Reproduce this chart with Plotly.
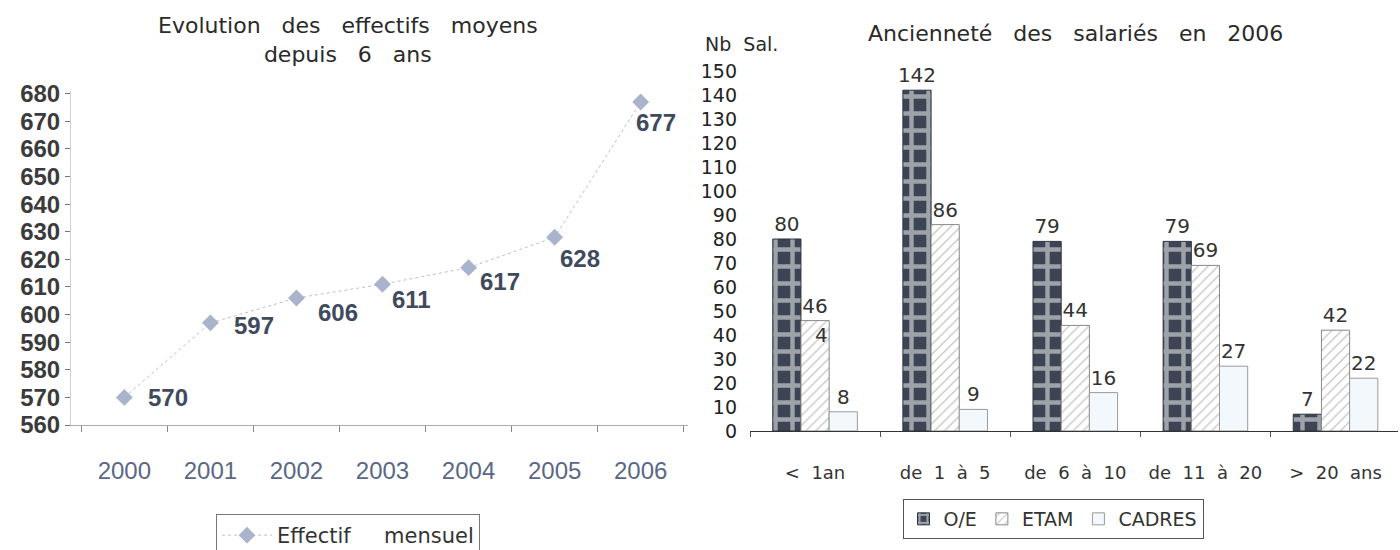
import plotly.graph_objects as go

# ---- Left chart data ----
years = ["2000", "2001", "2002", "2003", "2004", "2005", "2006"]
effectifs = [570, 597, 606, 611, 617, 628, 677]

# ---- Right chart data ----
anciennete = ["<  1an", "de  1  à  5", "de  6  à  10", "de  11  à  20", ">  20  ans"]
oe = [80, 142, 79, 79, 7]
etam = [46, 86, 44, 69, 42]
cadres = [8, 9, 16, 27, 22]

W, H = 1400, 550
def px(x):
    return x / W
def py(y):
    return (H - y) / H

fig = go.Figure()

fig.add_trace(go.Scatter(
    x=years, y=effectifs, name="Effectif     mensuel",
    mode="lines+markers",
    line=dict(color="#b9c0cc", width=1, dash="dot"),
    marker=dict(symbol="diamond", size=13, color="#a9b3cb"),
    cliponaxis=False,
    xaxis="x", yaxis="y", legend="legend",
))

# value labels of the line chart (offsets relative to each marker)
lab_dx = [22, 22, 20, 7, 9, 3, -7]
lab_dy = [0, 3, 14, 15, 14, 21, 20]
for i, (v, dx, dy) in enumerate(zip(effectifs, lab_dx, lab_dy)):
    fig.add_annotation(x=i, y=v, xref="x", yref="y", text=str(v),
                       showarrow=False, xanchor="left", yanchor="middle",
                       xshift=dx, yshift=-dy,
                       font=dict(family="Liberation Sans", size=24, color="#3f4a5e",
                                 weight="bold"))

bar_font = dict(family="DejaVu Sans", size=20, color="#333")

fig.add_trace(go.Bar(
    x=anciennete, y=oe, name="O/E",
    marker=dict(color="#3d4453", line=dict(color="#2e3440", width=1),
                pattern=dict(shape="+", fgcolor="white", bgcolor="#3d4453",
                             size=17, solidity=0.45)),
    texttemplate="%{y}", textposition="outside", constraintext="none",
    textfont=bar_font,
    cliponaxis=False, xaxis="x2", yaxis="y2", legend="legend2",
))
fig.add_trace(go.Bar(
    x=anciennete, y=etam, name="ETAM",
    marker=dict(color="white", line=dict(color="#888", width=1),
                pattern=dict(shape="/", fgcolor="#8a8a8a", bgcolor="white",
                             size=7, solidity=0.18)),
    texttemplate="%{y}", textposition="outside", constraintext="none",
    textfont=bar_font,
    cliponaxis=False, xaxis="x2", yaxis="y2", legend="legend2",
))
fig.add_trace(go.Bar(
    x=anciennete, y=cadres, name="CADRES",
    marker=dict(color="#f3f8fc", line=dict(color="#9a9a9a", width=1)),
    texttemplate="%{y}", textposition="outside", constraintext="none",
    textfont=bar_font,
    cliponaxis=False, xaxis="x2", yaxis="y2", legend="legend2",
))

fig.update_layout(
    width=W, height=H,
    margin=dict(l=0, r=0, t=0, b=0, autoexpand=False),
    paper_bgcolor="white", plot_bgcolor="white",
    bargap=0.35, bargroupgap=0,
    xaxis=dict(domain=[px(71), px(688)], type="category", range=[-0.62, 6.55],
               showline=True, linecolor="#aaaaaa", linewidth=1,
               ticks="outside", ticklen=6, tickcolor="#888", tickson="boundaries",
               tickfont=dict(family="Liberation Sans", size=24, color="#5a6786"),
               ticklabelstandoff=24, showgrid=False, zeroline=False,
               anchor="y", automargin=False),
    yaxis=dict(domain=[py(425), py(91)], range=[560, 681], dtick=10, tick0=560,
               showline=True, linecolor="#d0d0d0", linewidth=1,
               ticks="outside", ticklen=5, tickcolor="#777",
               tickfont=dict(family="Liberation Sans", size=24, color="#3b3b3b", weight="bold"),
               showgrid=False, zeroline=False, anchor="x", automargin=False),
    xaxis2=dict(domain=[px(750), px(1398)], type="category", range=[-0.5, 4.48],
                showline=True, linecolor="#333", linewidth=1,
                ticks="outside", ticklen=5, tickcolor="#555", tickson="boundaries",
                tickfont=dict(family="DejaVu Sans", size=18, color="#333"),
                ticklabelstandoff=25, showgrid=False, zeroline=False,
                anchor="y2", automargin=False),
    yaxis2=dict(domain=[py(431), py(71)], range=[0, 150], dtick=10, tick0=0,
                showline=False, ticks="",
                tickfont=dict(family="DejaVu Sans", size=19, color="#222"),
                ticklabelstandoff=12,
                showgrid=False, zeroline=False, anchor="x2", automargin=False),
    legend=dict(orientation="h", x=px(348), xanchor="center", y=py(514), yanchor="top",
                bordercolor="#777", borderwidth=1, bgcolor="white", itemwidth=50,
                font=dict(family="DejaVu Sans", size=21, color="#333")),
    legend2=dict(orientation="h", x=px(1053), xanchor="center", y=py(499), yanchor="top",
                 bordercolor="#555", borderwidth=1, bgcolor="white",
                 font=dict(family="DejaVu Sans", size=19, color="#333")),
    showlegend=True,
)

fig.add_annotation(text="Evolution   des   effectifs   moyens<br>depuis   6   ans",
                   xref="paper", yref="paper", x=px(348), y=py(40),
                   xanchor="center", yanchor="middle", showarrow=False,
                   font=dict(family="DejaVu Sans", size=22, color="#2a2a2a"))
fig.add_annotation(text="Ancienneté   des   salariés   en   2006",
                   xref="paper", yref="paper", x=px(1075), y=py(33),
                   xanchor="center", yanchor="middle", showarrow=False,
                   font=dict(family="DejaVu Sans", size=22, color="#2a2a2a"))
fig.add_annotation(text="Nb  Sal.", xref="paper", yref="paper", x=px(703), y=py(44),
                   xanchor="left", yanchor="middle", showarrow=False,
                   font=dict(family="DejaVu Sans", size=19, color="#2a2a2a"))
fig.add_annotation(text="4", xref="x2", yref="y2", x=0, y=40,
                   showarrow=False, xshift=6,
                   font=bar_font)

fig.write_html(
    "out.html",
    config={"displayModeBar": False},
    post_script=("document.body.style.margin='0';"
                 "document.body.style.overflow='hidden';"
                 "document.documentElement.style.overflow='hidden';"),
)
